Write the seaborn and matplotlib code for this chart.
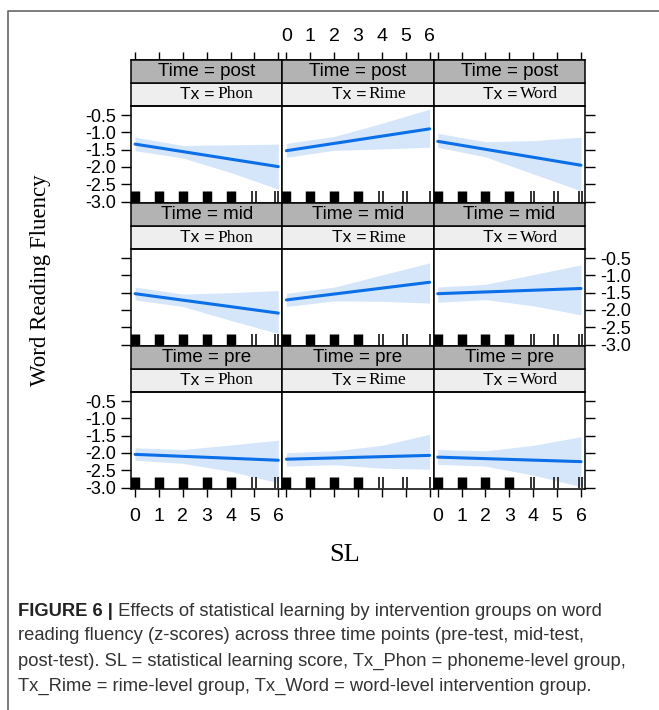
import numpy as np
import pandas as pd
import seaborn as sns
import matplotlib.pyplot as plt
from matplotlib.patches import Rectangle

# rows of the lattice (top to bottom) and columns
times = ['post', 'mid', 'pre']
groups = ['Phon', 'Rime', 'Word']

# fitted line at SL = 0 and SL = 6 (one value per group)
sl_range = [0, 6]
post_fit_0 = [-1.34, -1.53, -1.26]
post_fit_6 = [-1.99, -0.90, -1.95]
mid_fit_0 = [-1.53, -1.71, -1.53]
mid_fit_6 = [-2.09, -1.20, -1.38]
pre_fit_0 = [-2.04, -2.18, -2.12]
pre_fit_6 = [-2.21, -2.07, -2.25]

# confidence band read at these SL values
band_sl = [0, 2, 4, 6]
post_upper = [[-1.14, -1.38, -1.36, -1.34], [-1.32, -1.12, -0.74, -0.33], [-1.03, -1.27, -1.24, -1.14]]
post_lower = [[-1.53, -1.74, -2.16, -2.64], [-1.72, -1.52, -1.48, -1.43], [-1.43, -1.71, -2.20, -2.69]]
mid_upper = [[-1.34, -1.54, -1.50, -1.44], [-1.52, -1.34, -0.99, -0.64], [-1.34, -1.26, -0.98, -0.70]]
mid_lower = [[-1.71, -1.90, -2.30, -2.68], [-1.90, -1.74, -1.75, -1.80], [-1.78, -1.70, -1.88, -2.14]]
pre_upper = [[-1.85, -1.90, -1.77, -1.63], [-1.99, -1.94, -1.78, -1.46], [-1.90, -1.94, -1.78, -1.53]]
pre_lower = [[-2.21, -2.30, -2.53, -2.86], [-2.38, -2.34, -2.44, -2.47], [-2.33, -2.38, -2.64, -2.97]]

# rug of observed SL scores per group
rug_phon_thick = [0, 1, 2, 3, 4]
rug_phon_thin = [4.88, 5.05, 5.88, 6.0]
rug_rime_thick = [0, 1, 2, 3]
rug_rime_thin = [3.9, 4.05, 4.9, 5.05, 6.0]
rug_word_thick = [0, 1, 2, 3]
rug_word_thin = [3.9, 4.05, 4.88, 5.05, 5.9, 6.05]

yticks = [-0.5, -1.0, -1.5, -2.0, -2.5, -3.0]

sns.set_theme(style='white', rc={'axes.edgecolor': 'black', 'xtick.color': 'black',
                                 'ytick.color': 'black', 'text.color': 'black',
                                 'axes.linewidth': 1.1})
plt.rcParams['font.family'] = ['Liberation Sans', 'DejaVu Sans']
plt.rcParams['axes.unicode_minus'] = False

rows = []
for t, f0, f6 in zip(times, [post_fit_0, mid_fit_0, pre_fit_0], [post_fit_6, mid_fit_6, pre_fit_6]):
    for k, tx in enumerate(groups):
        rows.append((t, tx, sl_range[0], f0[k]))
        rows.append((t, tx, sl_range[1], f6[k]))
fit_df = pd.DataFrame(rows, columns=['Time', 'Tx', 'SL', 'fit'])

uppers = {'post': post_upper, 'mid': mid_upper, 'pre': pre_upper}
lowers = {'post': post_lower, 'mid': mid_lower, 'pre': pre_lower}
rug_thick = {'Phon': rug_phon_thick, 'Rime': rug_rime_thick, 'Word': rug_word_thick}
rug_thin = {'Phon': rug_phon_thin, 'Rime': rug_rime_thin, 'Word': rug_word_thin}

g = sns.FacetGrid(fit_df, row='Time', col='Tx', row_order=times, col_order=groups,
                  height=1.3, aspect=1.5, despine=False)
g.map_dataframe(sns.lineplot, x='SL', y='fit', color='#0a6fe8', lw=2.2, zorder=3)
g.set_titles('')
g.set_axis_labels('', '')

fig = g.figure
fig.set_size_inches(6.59, 7.10)
fig.set_dpi(100)
W, H = 659, 710
panel_h = 97
strip = 23
fig.subplots_adjust(left=131 / W, right=585 / W, top=1 - 106 / H, bottom=1 - 489 / H,
                    wspace=0, hspace=2 * strip / panel_h)
s = strip / panel_h

for i, t in enumerate(times):
    for j, tx in enumerate(groups):
        ax = g.axes_dict[(t, tx)]
        ax.fill_between(band_sl, lowers[t][j], uppers[t][j], color='#d5e6fa', lw=0, zorder=1)
        xt = ax.get_xaxis_transform()
        ax.vlines(rug_thick[tx], 0, 0.125, transform=xt, color='black', lw=6.8, zorder=4)
        ax.vlines(rug_thin[tx], 0, 0.125, transform=xt, color='#333333', lw=1.4, zorder=4)
        ax.set_xlim(-0.17, 6.17)
        ax.set_ylim(-3.04, -0.24)
        ax.set_xticks(range(7))
        ax.set_yticks(yticks)
        ax.set_yticklabels([f'{v:.1f}' for v in yticks])
        ax.tick_params(bottom=False, top=False, left=False, right=False,
                       labelbottom=False, labelleft=False, labeltop=False, labelright=False)
        ax.tick_params(axis='y', direction='out', length=7, width=1, labelsize=13, pad=4)
        ax.tick_params(axis='x', direction='out', length=6, width=1, labelsize=14, pad=8)
        if j == 0:
            ax.tick_params(left=True, labelleft=(i != 1))
        if j == 2:
            ax.tick_params(right=True, labelright=(i == 1))
        if i == 2:
            ax.tick_params(bottom=True, labelbottom=(j != 1))
        if i == 0:
            sec = ax.secondary_xaxis(1 + 2 * s)
            sec.set_xticks(range(7))
            sec.tick_params(direction='out', length=6, width=1, labelsize=14, pad=5)
            if j != 1:
                sec.set_xticklabels([])

        # lattice style strips
        ax.add_patch(Rectangle((0, 1), 1, s, transform=ax.transAxes, clip_on=False,
                               fc='#eeeeee', ec='black', lw=1.1))
        ax.add_patch(Rectangle((0, 1 + s), 1, s, transform=ax.transAxes, clip_on=False,
                               fc='#b3b3b3', ec='black', lw=1.1))
        ax.text(0.5, 1 + 1.5 * s, f'Time = {t}', transform=ax.transAxes, ha='center',
                va='center', fontsize=13.5, clip_on=False)
        ax.text(0.555, 1 + 0.5 * s, 'Tx =', transform=ax.transAxes, ha='right',
                va='center', fontsize=12.5, clip_on=False)
        ax.text(0.57, 1 + 0.5 * s, tx, transform=ax.transAxes, ha='left', va='center',
                fontsize=12.5, family='Liberation Serif', clip_on=False)

fig.text(41 / W, 1 - 280 / H, 'Word Reading Fluency', rotation=90, ha='center',
         va='center', fontsize=16.5, family='Liberation Serif')
fig.text(345 / W, 1 - 555 / H, 'SL', ha='center', va='center', fontsize=19,
         family='Liberation Serif')

# caption and frame
cap = fig.add_axes([0, 0, 1, 1], zorder=-1)
cap.set_xlim(0, W)
cap.set_ylim(H, 0)
cap.axis('off')
cap.plot([8, 8, W + 5], [H + 5, 11, 11], color='#666666', lw=1.2)

cap_lines = ['Effects of statistical learning by intervention groups on word',
             'reading fluency (z-scores) across three time points (pre-test, mid-test,',
             'post-test). SL = statistical learning score, Tx_Phon = phoneme-level group,',
             'Tx_Rime = rime-level group, Tx_Word = word-level intervention group.']
cap_y = [612, 636, 661, 686]
bold = cap.text(18, cap_y[0], 'FIGURE 6 |', fontsize=13.2, weight='bold', va='center',
                color='#222222')
cap.annotate(' ' + cap_lines[0], xy=(1, 0.5), xycoords=bold, va='center', fontsize=13.2,
             color='#333333')
for line, y in zip(cap_lines[1:], cap_y[1:]):
    cap.text(18, y, line, fontsize=13.2, va='center', color='#333333')

fig.savefig('out.png', dpi=100)
